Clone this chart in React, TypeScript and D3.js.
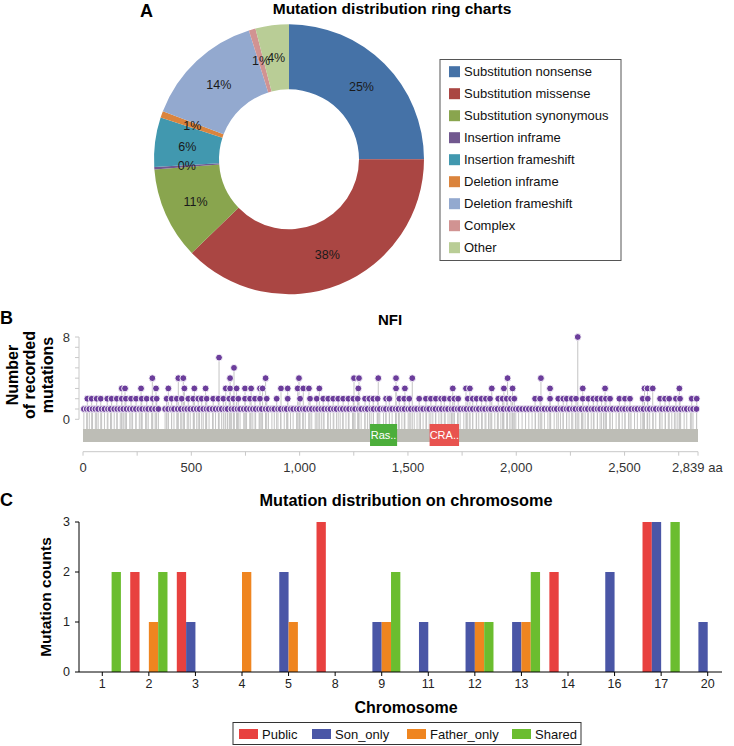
import React from 'react';
import * as d3 from 'd3';

// ---- Panel A: ring chart ----
const mutationTypes = [
  'Substitution nonsense',
  'Substitution missense',
  'Substitution synonymous',
  'Insertion inframe',
  'Insertion frameshift',
  'Deletion inframe',
  'Deletion frameshift',
  'Complex',
  'Other',
];
const mutationShares = [25.0, 37.8, 11.0, 0.3, 5.9, 0.8, 14.4, 0.8, 4.0];
const ringColors = ['#4572a7', '#aa4643', '#89a54e', '#71588f', '#4198af', '#db843d', '#93a9cf', '#d19392', '#b9cd96'];

// ---- Panel B: NF1 lollipops (amino-acid position, recorded count) ----
const singleHits = [
  4, 17, 29, 44, 57, 70, 86, 99, 115, 127, 144, 158, 172, 186, 201, 216, 229, 244, 260, 273, 289, 301, 317, 333, 348,
  379, 393, 409, 420, 437, 451, 468, 481, 495, 510, 525, 538, 555, 570, 582, 598, 612, 627, 640, 656, 667, 685, 698,
  713, 725, 742, 755, 771, 784, 797, 813, 825, 843, 856, 872, 883, 900, 912, 929, 940, 958, 970, 986, 999, 1014, 1026,
  1043, 1056, 1072, 1085, 1100, 1113, 1129, 1142, 1158, 1170, 1187, 1199, 1214, 1228, 1244, 1256, 1273, 1284, 1301,
  1313, 1330, 1341, 1358, 1370, 1387, 1398, 1415, 1427, 1443, 1456, 1472, 1484, 1501, 1513, 1529, 1542, 1558, 1570,
  1586, 1598, 1615, 1627, 1643, 1656, 1672, 1685, 1701, 1713, 1729, 1741, 1758, 1770, 1786, 1799, 1815, 1827, 1843,
  1856, 1872, 1884, 1901, 1913, 1929, 1941, 1958, 1970, 1986, 1998, 2011, 2027, 2043, 2058, 2073, 2089, 2102, 2118,
  2130, 2146, 2159, 2175, 2187, 2204, 2216, 2232, 2244, 2261, 2273, 2289, 2301, 2318, 2330, 2346, 2359, 2375, 2387,
  2403, 2416, 2432, 2444, 2461, 2473, 2489, 2502, 2518, 2530, 2546, 2559, 2575, 2587, 2604, 2616, 2632, 2644, 2661,
  2673, 2689, 2702, 2718, 2730, 2746, 2759, 2775, 2787, 2804, 2816, 2832,
];
const doubleHits = [
  20, 40, 63, 82, 112, 132, 156, 179, 198, 222, 245, 271, 294, 322, 340, 386, 409, 433, 456, 486, 509, 532, 548, 571,
  601, 625, 648, 675, 694, 717, 748, 771, 794, 817, 848, 894, 945, 1002, 1048, 1079, 1109, 1132, 1155, 1178, 1201,
  1225, 1248, 1268, 1302, 1322, 1340, 1360, 1399, 1414, 1460, 1483, 1506, 1552, 1583, 1606, 1629, 1653, 1668, 1694,
  1714, 1732, 1776, 1799, 1817, 1840, 1860, 1879, 1917, 1937, 1956, 1976, 1991, 2087, 2110, 2156, 2194, 2217, 2233,
  2256, 2276, 2307, 2333, 2356, 2374, 2394, 2414, 2433, 2476, 2502, 2525, 2584, 2607, 2664, 2687, 2706, 2737, 2756,
  2810, 2833,
];
const tripleHits = [
  179, 194, 268, 337, 394, 468, 514, 566, 659, 679, 709, 748, 776, 817, 829, 914, 945, 991, 1017, 1043, 1091, 1271,
  1445, 1486, 1707, 1768, 1786, 1887, 1943, 1983, 2156, 2307, 2410, 2592, 2606, 2630, 2753,
];
const quadHits = [320, 440, 463, 679, 843, 997, 1251, 1274, 1363, 1445, 1520, 1960, 2114];
const highHits: [number, number][] = [[697, 5], [628, 6], [2284, 8]];
const proteinLength = 2839;
const domains = [
  { name: 'Ras..', start: 1325, end: 1450, color: '#4cae3b' },
  { name: 'CRA..', start: 1600, end: 1736, color: '#e8534f' },
];

// ---- Panel C: grouped bars per chromosome ----
const chromosomes = ['1', '2', '3', '4', '5', '8', '9', '11', '12', '13', '14', '16', '17', '20'];
const groups = ['Public', 'Son_only', 'Father_only', 'Shared'];
const publicCounts = [0, 2, 2, 0, 0, 3, 0, 0, 0, 0, 2, 0, 3, 0];
const sonCounts = [0, 0, 1, 0, 2, 0, 1, 1, 1, 1, 0, 2, 3, 1];
const fatherCounts = [0, 1, 0, 2, 1, 0, 1, 0, 1, 1, 0, 0, 0, 0];
const sharedCounts = [2, 2, 0, 0, 0, 0, 2, 0, 1, 2, 0, 0, 3, 0];
const groupColors = ['#e8413f', '#4a56a6', '#ef8520', '#6bbd2f'];

const FONT = '"Liberation Sans", Arial, sans-serif';

const RingChart: React.FC = () => {
  const cx = 289;
  const cy = 159.3;
  const pie = d3.pie<number>().sort(null).value(d => d);
  const arcs = pie(mutationShares);
  const arc = d3.arc<d3.PieArcDatum<number>>().innerRadius(70).outerRadius(135);
  return (
    <g>
      <text x={140} y={17} fontSize={18} fontWeight="bold">A</text>
      <text x={392} y={14} fontSize={15.5} fontWeight="bold" textAnchor="middle">Mutation distribution ring charts</text>
      <g transform={`translate(${cx},${cy})`}>
        {arcs.map((a, i) => (
          <path key={i} d={arc(a) || ''} fill={ringColors[i]} />
        ))}
        {arcs.map((a, i) => {
          const [lx, ly] = arc.centroid(a);
          return (
            <text key={i} x={lx} y={ly} dy="0.35em" fontSize={12.5} textAnchor="middle" fill="#1a1a1a">
              {Math.round(mutationShares[i])}%
            </text>
          );
        })}
      </g>
      <rect x={440} y={59.5} width={181} height={201} fill="#fff" stroke="#555" strokeWidth={1} />
      {mutationTypes.map((t, i) => (
        <g key={t} transform={`translate(449,${71.7 + i * 22})`}>
          <rect x={0} y={-5.5} width={11} height={11} fill={ringColors[i]} />
          <text x={15} y={0} dy="0.35em" fontSize={13} fill="#111">{t}</text>
        </g>
      ))}
    </g>
  );
};

const LollipopChart: React.FC = () => {
  const x = d3.scaleLinear().domain([0, proteinLength]).range([83, 698]);
  const y = d3.scaleLinear().domain([0, 8]).range([419.3, 337]);
  const lollis: [number, number][] = [
    ...singleHits.map(p => [p, 1] as [number, number]),
    ...doubleHits.map(p => [p, 2] as [number, number]),
    ...tripleHits.map(p => [p, 3] as [number, number]),
    ...quadHits.map(p => [p, 4] as [number, number]),
    ...highHits,
  ];
  const backTop = 429;
  const backBottom = 442;
  const axisY = 451.7;
  const minorTicks = d3.range(0, 2751, 250);
  const labelTicks = [0, 500, 1000, 1500, 2000, 2500];
  const fmt = d3.format(',');
  return (
    <g>
      <text x={0} y={324} fontSize={18} fontWeight="bold">B</text>
      <text x={390} y={325} fontSize={15} fontWeight="bold" textAnchor="middle">NFI</text>
      <text transform="translate(12,375) rotate(-90)" fontSize={16} fontWeight="bold" textAnchor="middle" dy="0.35em">Number</text>
      <text transform="translate(29,375) rotate(-90)" fontSize={16} fontWeight="bold" textAnchor="middle" dy="0.35em">of recorded</text>
      <text transform="translate(47,375) rotate(-90)" fontSize={16} fontWeight="bold" textAnchor="middle" dy="0.35em">mutations</text>
      {/* y axis */}
      <line x1={79} x2={79} y1={y(8)} y2={y(0)} stroke="#c8c8c8" />
      {d3.range(0, 9).map(v => (
        <line key={v} x1={75} x2={79} y1={y(v)} y2={y(v)} stroke="#c8c8c8" />
      ))}
      {[0, 8].map(v => (
        <text key={v} x={70} y={y(v)} dy="0.35em" fontSize={13} textAnchor="end" fill="#333">{v}</text>
      ))}
      {/* stems */}
      {lollis.map(([p, c], i) => (
        <line key={'s' + i} x1={x(p)} x2={x(p)} y1={backTop} y2={y(c)} stroke="#c4c4c4" strokeWidth={1} />
      ))}
      {/* protein backbone */}
      <rect x={x(0)} y={backTop} width={x(proteinLength) - x(0)} height={backBottom - backTop} fill="#bdbdb6" />
      {domains.map(d => (
        <g key={d.name}>
          <rect x={x(d.start)} y={424} width={x(d.end) - x(d.start)} height={22} fill={d.color} />
          <text x={(x(d.start) + x(d.end)) / 2} y={435} dy="0.35em" fontSize={11} fill="#fff" textAnchor="middle">{d.name}</text>
        </g>
      ))}
      {/* heads */}
      {lollis.map(([p, c], i) => (
        <circle key={'c' + i} cx={x(p)} cy={y(c)} r={3.4} fill="#6b3d9b" stroke="#fff" strokeWidth={0.9} />
      ))}
      {/* x axis */}
      <line x1={x(0)} x2={x(proteinLength)} y1={axisY} y2={axisY} stroke="#c8c8c8" />
      {[...minorTicks, proteinLength].map(t => (
        <line key={t} x1={x(t)} x2={x(t)} y1={axisY} y2={axisY + 4} stroke="#c8c8c8" />
      ))}
      {labelTicks.map(t => (
        <text key={t} x={x(t)} y={467} dy="0.35em" fontSize={13} textAnchor="middle" fill="#333">{fmt(t)}</text>
      ))}
      <text x={672} y={467} dy="0.35em" fontSize={13} fill="#333">{fmt(proteinLength)} aa</text>
    </g>
  );
};

const ChromosomeBars: React.FC = () => {
  const left = 79;
  const bottom = 672;
  const x0 = d3.scaleBand().domain(chromosomes).range([left, 731]).paddingInner(0.2).paddingOuter(0.1);
  const x1 = d3.scaleBand().domain(groups).range([0, x0.bandwidth()]);
  const y = d3.scaleLinear().domain([0, 3]).range([bottom, 522]);
  const series = [publicCounts, sonCounts, fatherCounts, sharedCounts];
  return (
    <g>
      <text x={0} y={506} fontSize={18} fontWeight="bold">C</text>
      <text x={406} y={506} fontSize={16.3} fontWeight="bold" textAnchor="middle">Mutation distribution on chromosome</text>
      <text transform={`translate(46,${(bottom + 522) / 2}) rotate(-90)`} fontSize={15.5} fontWeight="bold" textAnchor="middle" dy="0.35em">Mutation counts</text>
      {chromosomes.map((c, ci) =>
        series.map((s, gi) =>
          s[ci] > 0 ? (
            <rect
              key={c + gi}
              x={(x0(c) || 0) + (x1(groups[gi]) || 0)}
              y={y(s[ci])}
              width={x1.bandwidth()}
              height={bottom - y(s[ci])}
              fill={groupColors[gi]}
            />
          ) : null
        )
      )}
      <line x1={left} x2={left} y1={y(3)} y2={bottom} stroke="#000" />
      {y.ticks(3).map(t => (
        <g key={t}>
          <line x1={left - 4} x2={left} y1={y(t)} y2={y(t)} stroke="#000" />
          <text x={70} y={y(t)} dy="0.35em" fontSize={12.5} textAnchor="end" fill="#222">{t}</text>
        </g>
      ))}
      <line x1={left} x2={722} y1={bottom} y2={bottom} stroke="#000" />
      {chromosomes.map(c => {
        const cxp = (x0(c) || 0) + x0.bandwidth() / 2;
        return (
          <g key={c}>
            <line x1={cxp} x2={cxp} y1={bottom} y2={bottom + 4} stroke="#000" />
            <text x={cxp} y={684} dy="0.35em" fontSize={12.5} textAnchor="middle" fill="#222">{c}</text>
          </g>
        );
      })}
      <text x={406} y={707} dy="0.35em" fontSize={16} fontWeight="bold" textAnchor="middle">Chromosome</text>
      <rect x={233} y={722.5} width={348} height={22} fill="#fff" stroke="#333" />
      {groups.map((g, i) => {
        const gx = [239, 312, 407, 512][i];
        return (
          <g key={g}>
            <rect x={gx} y={729} width={19} height={10} fill={groupColors[i]} />
            <text x={gx + 23} y={734} dy="0.35em" fontSize={13} fill="#111">{g}</text>
          </g>
        );
      })}
    </g>
  );
};

const App: React.FC = () => (
  <div style={{ position: 'absolute', left: 0, top: 0 }}>
    <svg width={734} height={746} style={{ fontFamily: FONT, display: 'block' }}>
      <rect width={734} height={746} fill="#fff" />
      <RingChart />
      <LollipopChart />
      <ChromosomeBars />
    </svg>
  </div>
);

export default App;
